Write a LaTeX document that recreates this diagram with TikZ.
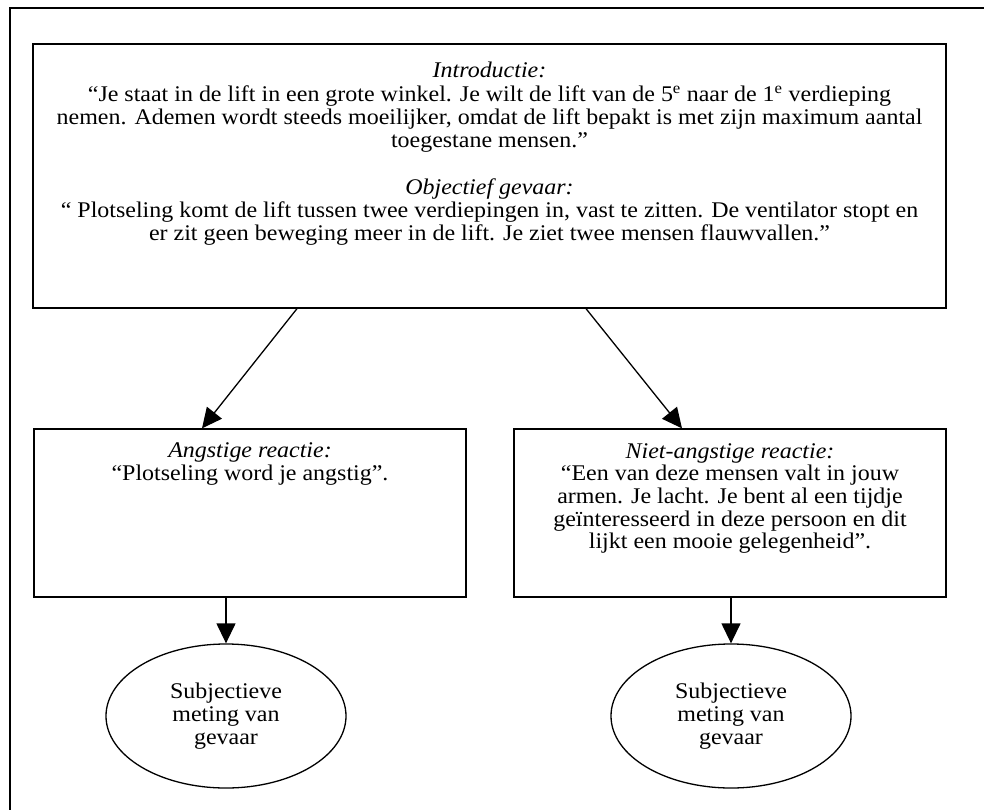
\documentclass[tikz,border=0pt]{standalone}
\usepackage{fontspec}
\setmainfont[FakeStretch=1.07]{Liberation Serif}
\usetikzlibrary{arrows.meta,shapes.geometric,calc}
\begin{document}
\begin{tikzpicture}[x=1pt,y=1pt,
  every node/.style={font=\fontsize{22.4}{23.3}\selectfont},
  box/.style={draw,line width=1.3pt,rectangle,inner sep=0pt},
  txt/.style={inner sep=0pt,align=center},
  oval/.style={draw,line width=1.3pt,ellipse,inner sep=0pt,minimum width=240pt,minimum height=144pt,align=center},
  arr/.style={line width=1.3pt,-{Triangle[length=20pt,width=19pt]}}]
\useasboundingbox (0,0) rectangle (984,-810);
\clip (0,0) rectangle (984,-810);
\draw[line width=1.5pt] (10,-8) rectangle (1000,-830);
% top box
\node[box,minimum width=913pt,minimum height=264pt] (intro) at (489.5,-176) {};
\node[txt,anchor=north] (introtxt) at (489.5,-62) {\textit{Introductie:}\\
“Je staat in de lift in een grote winkel. Je wilt de lift van de 5\textsuperscript{e} naar de 1\textsuperscript{e} verdieping\\
nemen. Ademen wordt steeds moeilijker, omdat de lift bepakt is met zijn maximum aantal\\
toegestane mensen.”\\[23.3pt]
\textit{Objectief gevaar:}\\
“ Plotseling komt de lift tussen twee verdiepingen in, vast te zitten. De ventilator stopt en\\
er zit geen beweging meer in de lift. Je ziet twee mensen flauwvallen.”};
% lower boxes
\node[box,minimum width=432pt,minimum height=168pt] (left) at (250,-513) {};
\node[txt,anchor=north] (lefttxt) at (250,-442) {\textit{Angstige reactie:}\\
“Plotseling word je angstig”.};
\node[box,minimum width=432pt,minimum height=168pt] (right) at (730,-513) {};
\node[txt,anchor=north,font=\fontsize{22.4}{22.7}\selectfont] (righttxt) at (730,-443) {\textit{Niet-angstige reactie:}\\
“Een van deze mensen valt in jouw\\
armen. Je lacht. Je bent al een tijdje\\
geïnteresseerd in deze persoon en dit\\
lijkt een mooie gelegenheid”.};
% ellipses
\node[oval] (ovl) at (226,-716) {Subjectieve\\meting van\\gevaar};
\node[oval] (ovr) at (731,-716) {Subjectieve\\meting van\\gevaar};
% arrows
\draw[arr] ([xshift=-192.5pt]intro.south) -- ([xshift=-48pt]left.north);
\draw[arr] ([xshift=96.5pt]intro.south) -- ([xshift=-48pt]right.north);
\draw[arr] (left.south -| ovl.north) -- (ovl.north);
\draw[arr] (right.south -| ovr.north) -- (ovr.north);
\end{tikzpicture}
\end{document}
